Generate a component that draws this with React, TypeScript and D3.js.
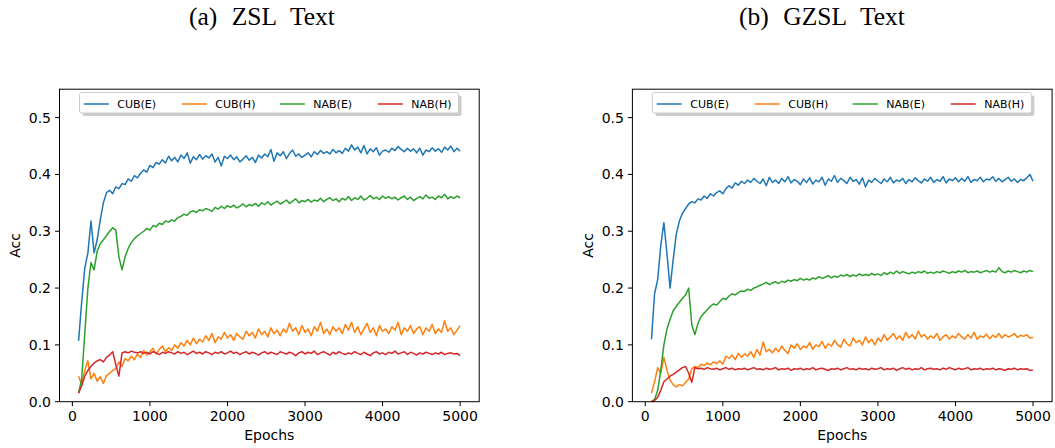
import React from 'react';
import * as d3 from 'd3';

// sampled every 40 epochs, 80 .. 5000
const epochs = d3.range(80, 5001, 40);
const seriesNames = ['CUB(E)', 'CUB(H)', 'NAB(E)', 'NAB(H)'];
const colors = ['#1f77b4', '#ff7f0e', '#2ca02c', '#d62728'];
const xTicks = [0, 1000, 2000, 3000, 4000, 5000];
const yTicks = [0, 0.1, 0.2, 0.3, 0.4, 0.5];

// (a) ZSL Text
const zslCubE = [
  0.107, 0.175, 0.235, 0.262, 0.318, 0.262, 0.285, 0.320, 0.350, 0.368,
  0.372, 0.366, 0.378, 0.375, 0.384, 0.382, 0.392, 0.388, 0.398, 0.394,
  0.402, 0.408, 0.404, 0.416, 0.412, 0.421, 0.418, 0.426, 0.420, 0.432,
  0.424, 0.430, 0.422, 0.434, 0.428, 0.438, 0.420, 0.431, 0.426, 0.435,
  0.427, 0.433, 0.429, 0.436, 0.422, 0.430, 0.415, 0.432, 0.428, 0.434,
  0.426, 0.431, 0.422, 0.427, 0.433, 0.425, 0.430, 0.421, 0.434, 0.429,
  0.436, 0.431, 0.444, 0.423, 0.438, 0.433, 0.440, 0.428, 0.437, 0.443,
  0.432, 0.436, 0.430, 0.434, 0.438, 0.431, 0.440, 0.435, 0.442, 0.437,
  0.440, 0.436, 0.444, 0.438, 0.442, 0.437, 0.446, 0.441, 0.452, 0.443,
  0.448, 0.438, 0.451, 0.436, 0.445, 0.440, 0.447, 0.434, 0.441, 0.443,
  0.439, 0.446, 0.442, 0.449, 0.444, 0.440, 0.446, 0.441, 0.445, 0.438,
  0.446, 0.434, 0.443, 0.440, 0.447, 0.441, 0.445, 0.439, 0.448, 0.443,
  0.450, 0.440, 0.446, 0.441,
];
const zslCubH = [
  0.045, 0.030, 0.055, 0.072, 0.040, 0.050, 0.036, 0.044, 0.032, 0.046,
  0.050, 0.055, 0.058, 0.070, 0.062, 0.076, 0.072, 0.080, 0.074, 0.084,
  0.078, 0.090, 0.082, 0.088, 0.094, 0.084, 0.092, 0.098, 0.088, 0.095,
  0.090, 0.100, 0.094, 0.104, 0.098, 0.108, 0.100, 0.112, 0.102, 0.110,
  0.105, 0.116, 0.108, 0.120, 0.104, 0.114, 0.110, 0.122, 0.112, 0.118,
  0.108, 0.120, 0.114, 0.110, 0.124, 0.116, 0.122, 0.112, 0.128, 0.118,
  0.124, 0.114, 0.130, 0.120, 0.126, 0.116, 0.128, 0.122, 0.138, 0.124,
  0.130, 0.118, 0.134, 0.122, 0.128, 0.116, 0.132, 0.124, 0.140, 0.120,
  0.128, 0.118, 0.132, 0.124, 0.130, 0.120, 0.136, 0.126, 0.140, 0.122,
  0.132, 0.118, 0.128, 0.138, 0.122, 0.130, 0.116, 0.134, 0.124, 0.128,
  0.120, 0.132, 0.126, 0.140, 0.118, 0.130, 0.124, 0.134, 0.120, 0.128,
  0.132, 0.118, 0.130, 0.124, 0.136, 0.120, 0.128, 0.122, 0.142, 0.124,
  0.130, 0.118, 0.126, 0.134,
];
const zslNabE = [
  0.015, 0.040, 0.120, 0.200, 0.245, 0.232, 0.265, 0.278, 0.285, 0.292,
  0.300, 0.306, 0.302, 0.255, 0.232, 0.255, 0.270, 0.280, 0.287, 0.292,
  0.296, 0.300, 0.305, 0.302, 0.310, 0.308, 0.314, 0.312, 0.318, 0.316,
  0.320, 0.318, 0.324, 0.326, 0.330, 0.328, 0.334, 0.336, 0.333, 0.338,
  0.336, 0.340, 0.338, 0.335, 0.342, 0.339, 0.344, 0.340, 0.345, 0.342,
  0.346, 0.341, 0.344, 0.348, 0.343, 0.347, 0.345, 0.349, 0.344, 0.350,
  0.347, 0.352, 0.346, 0.350, 0.353, 0.348, 0.351, 0.355, 0.349, 0.353,
  0.357, 0.350, 0.354, 0.352, 0.356, 0.351, 0.355, 0.353, 0.358, 0.352,
  0.356, 0.359, 0.354, 0.357, 0.352, 0.358, 0.355, 0.361, 0.354, 0.359,
  0.356, 0.362, 0.355, 0.358, 0.363, 0.357, 0.360, 0.356, 0.362, 0.358,
  0.361, 0.357, 0.360, 0.355, 0.359, 0.362, 0.356, 0.360, 0.354, 0.358,
  0.361, 0.357, 0.364, 0.358, 0.360, 0.356, 0.362, 0.359, 0.365, 0.357,
  0.361, 0.358, 0.362, 0.359,
];
const zslNabH = [
  0.015, 0.028, 0.045, 0.055, 0.062, 0.068, 0.072, 0.074, 0.070, 0.078,
  0.082, 0.088, 0.065, 0.045, 0.086, 0.088, 0.086, 0.089, 0.087, 0.086,
  0.088, 0.085, 0.087, 0.084, 0.088, 0.086, 0.083, 0.087, 0.085, 0.088,
  0.086, 0.084, 0.088, 0.085, 0.087, 0.083, 0.086, 0.089, 0.085, 0.087,
  0.084, 0.088, 0.086, 0.083, 0.087, 0.085, 0.088, 0.084, 0.086, 0.089,
  0.085, 0.087, 0.083, 0.086, 0.088, 0.084, 0.087, 0.085, 0.082, 0.086,
  0.088, 0.084, 0.087, 0.085, 0.083, 0.088, 0.086, 0.084, 0.087, 0.085,
  0.081, 0.086, 0.088, 0.084, 0.087, 0.085, 0.089, 0.083, 0.086, 0.088,
  0.085, 0.082, 0.087, 0.084, 0.088, 0.085, 0.083, 0.086, 0.084, 0.088,
  0.085, 0.083, 0.087, 0.084, 0.081, 0.086, 0.088, 0.084, 0.086, 0.083,
  0.087, 0.085, 0.089, 0.084, 0.086, 0.088, 0.083, 0.087, 0.085, 0.082,
  0.086, 0.084, 0.087, 0.085, 0.083, 0.086, 0.084, 0.087, 0.083, 0.085,
  0.086, 0.084, 0.085, 0.081,
];

// (b) GZSL Text
const gzslCubE = [
  0.110, 0.190, 0.215, 0.275, 0.315, 0.260, 0.200, 0.250, 0.295, 0.318,
  0.332, 0.340, 0.348, 0.352, 0.350, 0.357, 0.355, 0.362, 0.358, 0.366,
  0.362, 0.368, 0.371, 0.366, 0.375, 0.380, 0.376, 0.385, 0.381, 0.388,
  0.384, 0.390, 0.386, 0.393, 0.388, 0.384, 0.392, 0.380, 0.395, 0.386,
  0.390, 0.384, 0.393, 0.387, 0.396, 0.385, 0.391, 0.388, 0.382, 0.392,
  0.386, 0.394, 0.383, 0.390, 0.387, 0.395, 0.381, 0.392, 0.388, 0.398,
  0.386, 0.393, 0.389, 0.384, 0.395, 0.388, 0.391, 0.383, 0.394, 0.378,
  0.390, 0.386, 0.393, 0.388, 0.384, 0.392, 0.387, 0.395, 0.385, 0.390,
  0.388, 0.393, 0.384, 0.391, 0.387, 0.394, 0.389, 0.385, 0.392, 0.388,
  0.395, 0.386, 0.391, 0.388, 0.396, 0.385, 0.392, 0.389, 0.394, 0.387,
  0.393, 0.388, 0.396, 0.386, 0.391, 0.389, 0.395, 0.387, 0.392, 0.390,
  0.396, 0.388, 0.393, 0.387, 0.391, 0.395, 0.388, 0.392, 0.386, 0.391,
  0.389, 0.394, 0.400, 0.388,
];
const gzslCubH = [
  0.015, 0.035, 0.060, 0.050, 0.078, 0.055, 0.038, 0.030, 0.026, 0.030,
  0.028, 0.034, 0.040, 0.058, 0.062, 0.060, 0.066, 0.064, 0.068, 0.065,
  0.070, 0.067, 0.072, 0.066, 0.080, 0.076, 0.082, 0.074, 0.085, 0.078,
  0.084, 0.080, 0.088, 0.078, 0.092, 0.082, 0.105, 0.088, 0.092, 0.086,
  0.094, 0.088, 0.098, 0.090, 0.085, 0.100, 0.094, 0.102, 0.092, 0.098,
  0.095, 0.104, 0.092, 0.100, 0.097, 0.106, 0.094, 0.102, 0.098, 0.108,
  0.100, 0.096, 0.110, 0.102, 0.098, 0.112, 0.104, 0.108, 0.100, 0.114,
  0.104, 0.110, 0.100, 0.112, 0.106, 0.118, 0.108, 0.114, 0.120, 0.110,
  0.116, 0.108, 0.122, 0.112, 0.118, 0.110, 0.124, 0.114, 0.118, 0.110,
  0.116, 0.112, 0.120, 0.108, 0.114, 0.118, 0.110, 0.116, 0.112, 0.120,
  0.114, 0.110, 0.118, 0.112, 0.122, 0.110, 0.116, 0.113, 0.119, 0.111,
  0.117, 0.113, 0.120, 0.112, 0.118, 0.114, 0.116, 0.120, 0.113, 0.117,
  0.115, 0.118, 0.112, 0.113,
];
const gzslNabE = [
  0.000, 0.004, 0.020, 0.055, 0.100, 0.128, 0.145, 0.160, 0.168, 0.175,
  0.182, 0.188, 0.200, 0.135, 0.118, 0.138, 0.150, 0.156, 0.162, 0.168,
  0.172, 0.170, 0.176, 0.182, 0.180, 0.186, 0.190, 0.188, 0.192, 0.195,
  0.194, 0.198, 0.196, 0.200, 0.202, 0.205, 0.207, 0.210, 0.206, 0.209,
  0.211, 0.208, 0.212, 0.210, 0.214, 0.212, 0.215, 0.213, 0.217, 0.214,
  0.216, 0.214, 0.218, 0.216, 0.220, 0.217, 0.219, 0.222, 0.218, 0.221,
  0.219, 0.223, 0.221, 0.224, 0.220, 0.223, 0.221, 0.225, 0.222, 0.224,
  0.222, 0.226, 0.223, 0.225, 0.222, 0.227, 0.224, 0.228, 0.225, 0.230,
  0.226, 0.229, 0.227, 0.225, 0.228, 0.226, 0.229, 0.227, 0.230, 0.226,
  0.228, 0.226, 0.229, 0.227, 0.230, 0.228, 0.226, 0.229, 0.227, 0.230,
  0.228, 0.231, 0.227, 0.229, 0.228, 0.230, 0.227, 0.229, 0.231, 0.228,
  0.230, 0.228, 0.236, 0.229, 0.227, 0.230, 0.228, 0.231, 0.229, 0.227,
  0.230, 0.228, 0.231, 0.229,
];
const gzslNabH = [
  0.000, 0.002, 0.008, 0.020, 0.035, 0.040, 0.045, 0.048, 0.052, 0.056,
  0.060, 0.062, 0.050, 0.034, 0.060, 0.058, 0.059, 0.057, 0.060, 0.058,
  0.057, 0.059, 0.056, 0.058, 0.060, 0.057, 0.059, 0.056, 0.058, 0.057,
  0.059, 0.056, 0.058, 0.060, 0.057, 0.058, 0.056, 0.059, 0.057, 0.058,
  0.060, 0.056, 0.058, 0.057, 0.059, 0.055, 0.058, 0.057, 0.059, 0.056,
  0.058, 0.057, 0.060, 0.056, 0.058, 0.059, 0.057, 0.055, 0.058, 0.057,
  0.059, 0.056, 0.058, 0.060, 0.057, 0.058, 0.056, 0.059, 0.057, 0.058,
  0.056, 0.059, 0.057, 0.058, 0.060, 0.056, 0.058, 0.057, 0.059, 0.055,
  0.058, 0.060, 0.057, 0.059, 0.056, 0.058, 0.057, 0.060, 0.056, 0.058,
  0.059, 0.057, 0.058, 0.056, 0.059, 0.057, 0.060, 0.058, 0.056, 0.059,
  0.057, 0.058, 0.060, 0.056, 0.058, 0.057, 0.059, 0.056, 0.058, 0.057,
  0.059, 0.056, 0.058, 0.057, 0.055, 0.058, 0.057, 0.059, 0.056, 0.058,
  0.057, 0.058, 0.055, 0.056,
];

const panels = [
  { title: '(a) ZSL Text', titleX: 262, left: 59.5, series: [zslCubE, zslCubH, zslNabE, zslNabH] },
  { title: '(b) GZSL Text', titleX: 822, left: 632.4, series: [gzslCubE, gzslCubH, gzslNabE, gzslNabH] },
];

const W = 1055;
const H = 448;
const plotW = 419.7;
const top = 89.2;
const bottom = 401.7;
const sans = 'DejaVu Sans, sans-serif';

const Panel = ({ p }) => {
  const x = d3.scaleLinear().domain([-166, 5246]).range([p.left, p.left + plotW]);
  const y = d3.scaleLinear().domain([0, 0.55]).range([bottom, top]);
  const line = d3.line<number>()
    .x((_, i) => x(epochs[i]))
    .y((d) => y(d));
  const fmt = d3.format('.1f');
  const legX = p.left + 20;
  const legY = 92.5;
  return (
    <g>
      <text x={p.titleX} y={25} textAnchor="middle" fontFamily="Liberation Serif, serif"
        fontSize={25.5} style={{ wordSpacing: '8px' }}>{p.title}</text>
      {p.series.map((s, k) => (
        <path key={k} d={line(s) || ''} fill="none" stroke={colors[k]} strokeWidth={1.5}
          strokeLinejoin="round" />
      ))}
      <rect x={p.left} y={top} width={plotW} height={bottom - top} fill="none" stroke="#000" strokeWidth={1} />
      {xTicks.map((t) => (
        <g key={t}>
          <line x1={x(t)} x2={x(t)} y1={bottom} y2={bottom + 4.5} stroke="#000" strokeWidth={1} />
          <text x={x(t)} y={bottom + 19.5} textAnchor="middle" fontFamily={sans} fontSize={14}>{t}</text>
        </g>
      ))}
      {yTicks.map((t) => (
        <g key={t}>
          <line x1={p.left - 4.5} x2={p.left} y1={y(t)} y2={y(t)} stroke="#000" strokeWidth={1} />
          <text x={p.left - 8.5} y={y(t) + 5} textAnchor="end" fontFamily={sans} fontSize={14}>{fmt(t)}</text>
        </g>
      ))}
      <text x={p.left + plotW / 2} y={440} textAnchor="middle" fontFamily={sans} fontSize={14}>Epochs</text>
      <text transform={`translate(${p.left - 39.5},${(top + bottom) / 2}) rotate(-90)`} textAnchor="middle"
        fontFamily={sans} fontSize={14}>Acc</text>
      <rect x={legX + 3} y={legY + 3} width={379} height={20.5} rx={2} fill="#999" opacity={0.5} />
      <rect x={legX} y={legY} width={379} height={20.5} rx={2} fill="#fff" stroke="#cccccc" strokeWidth={1} />
      {seriesNames.map((n, k) => (
        <g key={n} transform={`translate(${legX + 4.3 + k * 98},${legY + 11.5})`}>
          <line x1={0} x2={25} y1={0} y2={0} stroke={colors[k]} strokeWidth={1.5} />
          <text x={33.5} y={4} fontFamily={sans} fontSize={11}>{n}</text>
        </g>
      ))}
    </g>
  );
};

export default function App() {
  return (
    <svg width={W} height={H} style={{ position: 'absolute', left: 0, top: 0, background: '#fff' }}>
      {panels.map((p) => <Panel key={p.title} p={p} />)}
    </svg>
  );
}
